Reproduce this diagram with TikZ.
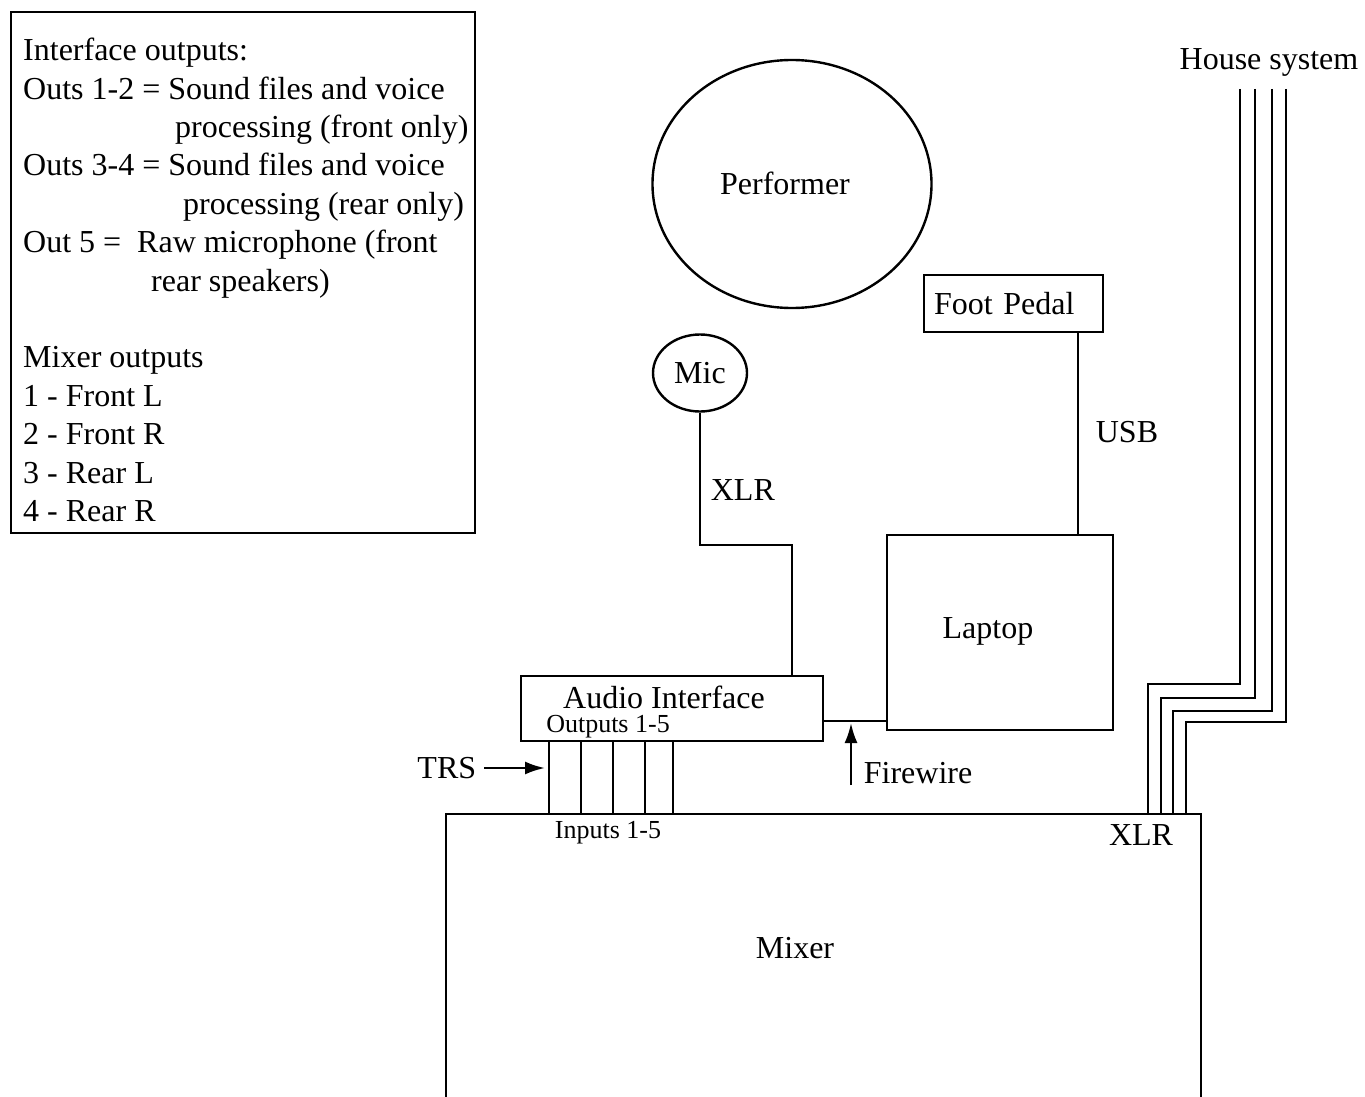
\documentclass[tikz,border=0pt]{standalone}
\usepackage{fontspec}
\setmainfont{Liberation Serif}
\usetikzlibrary{arrows.meta,positioning,calc,shapes.geometric}

\begin{document}
\begin{tikzpicture}[x=0.5pt,y=-0.5pt,>={Latex[length=10pt,width=6.5pt]},line width=1.2pt,every node/.style={font=\fontsize{16}{19.2}\selectfont}]
\tikzset{box/.style={draw,rectangle,inner sep=0pt},oval/.style={draw,ellipse,inner sep=0pt},tiny/.style={font=\fontsize{13}{15}\selectfont,inner sep=0pt}}
\useasboundingbox (0,0) rectangle (1365,1097);
% legend
\node[box,minimum width=232pt,minimum height=260.5pt] (legend) at (243,272.5) {};
\node[anchor=north west,align=left,inner sep=0pt] (legendtext) at (22,37) {Interface outputs:\\Outs 1-2 = Sound files and voice\\\hspace*{76pt}processing (front only)\\Outs 3-4 = Sound files and voice\\\hspace*{80pt}processing (rear only)\\Out 5 = \ Raw microphone (front\\\hspace*{64pt}rear speakers)\\[19.2pt]Mixer outputs\\1 - Front L\\2 - Front R\\3 - Rear L\\4 - Rear R};
% devices
\node[oval,minimum width=139.5pt,minimum height=124pt] (performer) at (792,184) {};
\node (perfname) at (785,183) {Performer};
\node[oval,minimum width=47pt,minimum height=38.5pt] (mic) at (700,373) {Mic};
\node[box,minimum width=89.5pt,minimum height=28.5pt,text width=79.5pt,inner xsep=5pt,align=left] (pedal) at (1013.5,303.5) {Foot Pedal};
\node[box,minimum width=113pt,minimum height=97.5pt] (laptop) at (1000,632.5) {};
\node (lapname) at (988,631) {Laptop};
\node[box,minimum width=151pt,minimum height=32.5pt] (interface) at (672,708.5) {};
\node (ifname) at (664,697) {Audio Interface};
\node[tiny] (outs) at (608,727) {Outputs 1-5};
\node[minimum width=376.5pt,minimum height=141pt,inner sep=0pt] (mixer) at (823.5,956) {};
\draw (mixer.south west) -- (mixer.north west) -- (mixer.north east) -- (mixer.south east);
\node (mixname) at (795,948) {Mixer};
\node[tiny] (ins) at (608,833) {Inputs 1-5};
\node (house) at (1269,62) {House system};
\node (housexlr) at (1141,835) {XLR};
% mic cable
\coordinate (xlrturn) at (792,545);
\draw (mic.south) |- (xlrturn) -- (xlrturn |- interface.north);
\node[anchor=west] (xlr) at (703,490) {XLR};
% usb
\coordinate (usbx) at (1078,0);
\draw (usbx |- pedal.south) -- (usbx |- laptop.north);
\node[anchor=west] (usb) at (1088,432) {USB};
% firewire
\coordinate (fw) at (851,721);
\coordinate (fwtip) at (851,723);
\coordinate (fwtail) at (851,785);
\draw (fw -| interface.east) -- (fw -| laptop.west);
\draw[->] (fwtail) -- (fwtip);
\node[anchor=west] (fwlabel) at (856,773) {Firewire};
% trs
\node[anchor=east] (trs) at (484,768) {TRS};
\coordinate (trstip) at (545,768);
\draw[->] (trs.east) -- (trstip);
\foreach \x in {549,581,613,645,673}
  \draw (interface.south -| \x,0) -- (mixer.north -| \x,0);
% house feeds
\foreach \tx/\ty/\bx [count=\i] in {1240/684/1148,1255/698/1161,1272/711/1173,1286/722/1186}{
  \coordinate (h\i) at (\tx,89);
  \draw (h\i) |- (\bx,\ty) -- (mixer.north -| \bx,0);
}
\end{tikzpicture}
\end{document}
